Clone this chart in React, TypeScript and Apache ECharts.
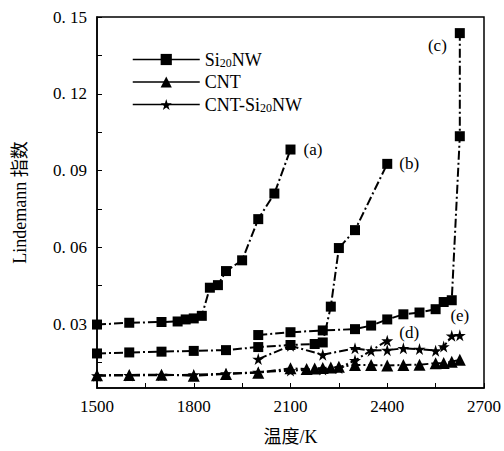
import React, { useEffect, useRef } from "react";
import * as echarts from "echarts";

// Temperature (K) / Lindemann index pairs
const siA: number[][] = [
  [1500, 0.0298], [1600, 0.0305], [1700, 0.0308], [1750, 0.031], [1775, 0.0318],
  [1800, 0.0322], [1825, 0.0332], [1850, 0.0442], [1875, 0.0452], [1900, 0.0507],
  [1950, 0.0549], [2000, 0.071], [2050, 0.081], [2100, 0.0982],
];
const siB: number[][] = [
  [1500, 0.0185], [1600, 0.0189], [1700, 0.0192], [1800, 0.0195], [1900, 0.0198],
  [2000, 0.021], [2100, 0.0218], [2175, 0.0222], [2200, 0.0228], [2225, 0.0368],
  [2250, 0.0597], [2300, 0.0667], [2400, 0.0926],
];
const siC: number[][] = [
  [2000, 0.0257], [2100, 0.0268], [2200, 0.0275], [2300, 0.028], [2350, 0.0294],
  [2400, 0.0318], [2450, 0.0338], [2500, 0.0345], [2550, 0.0358], [2575, 0.0386],
  [2600, 0.0393], [2625, 0.1034], [2625, 0.1437],
];
const cnt: number[][] = [
  [1500, 0.01], [1600, 0.0101], [1700, 0.0102], [1800, 0.0098], [1900, 0.0105],
  [2000, 0.011], [2100, 0.0127], [2150, 0.0124], [2175, 0.0126], [2200, 0.0128],
  [2225, 0.013], [2250, 0.0133], [2300, 0.014], [2350, 0.014], [2400, 0.0138],
  [2450, 0.014], [2500, 0.0141], [2550, 0.0147], [2575, 0.0148], [2600, 0.0153],
  [2625, 0.016],
];
const starD: number[][] = [
  [1500, 0.0098], [1600, 0.0099], [1700, 0.01], [1800, 0.0102], [1900, 0.0106],
  [2000, 0.0112], [2100, 0.0118], [2200, 0.0122], [2250, 0.0128], [2300, 0.0158],
  [2400, 0.0235],
];
const starE: number[][] = [
  [2000, 0.0163], [2100, 0.0215], [2200, 0.018], [2300, 0.0205], [2350, 0.0196],
  [2400, 0.0198], [2450, 0.0205], [2500, 0.0202], [2550, 0.0196], [2575, 0.0212],
  [2600, 0.0254], [2625, 0.0256],
];
const curveLabels = ["(a)", "(b)", "(c)", "(d)", "(e)"];
const legendNames = ["Si20NW", "CNT", "CNT-Si20NW"];
const yTickValues = [0.015, 0.03, 0.045, 0.06, 0.075, 0.09, 0.105, 0.12, 0.135, 0.15];
const yLabelValues = [0.03, 0.06, 0.09, 0.12, 0.15];

const FONT = "'Liberation Serif', 'Noto Sans CJK SC', serif";
const STAR =
  "path://M50,0 L61,35 L98,35 L68,57 L79,91 L50,70 L21,91 L32,57 L2,35 L39,35 Z";

export default function App() {
  const ref = useRef<HTMLDivElement>(null);
  useEffect(() => {
    if (!ref.current) return;
    const chart = echarts.init(ref.current, null, { renderer: "svg" });
    const lineStyle = { color: "#000", width: 2, type: [9, 3, 2, 3] as any };
    const withLabel = (arr: number[][], text: string, lab: any) =>
      arr.map((p, i) =>
        i === arr.length - 1
          ? {
              value: p,
              label: {
                show: true,
                formatter: text,
                fontFamily: FONT,
                fontSize: 17,
                color: "#000",
                ...lab,
              },
            }
          : { value: p }
      );
    const mk = (name: string, data: any[], symbol: string, size: number) => ({
      name,
      type: "line",
      data,
      symbol,
      symbolSize: size,
      lineStyle,
      itemStyle: { color: "#000" },
      z: 3,
    });
    chart.setOption({
      animation: false,
      backgroundColor: "#fff",
      grid: {
        left: 97,
        top: 17,
        right: 19,
        bottom: 62,
        show: true,
        borderColor: "#000",
        borderWidth: 1.5,
      },
      legend: {
        data: legendNames,
        orient: "vertical",
        left: 127,
        top: 45,
        itemWidth: 67,
        itemHeight: 14,
        itemGap: 4,
        lineStyle: { type: "solid", width: 1.5 },
        formatter: (n: string) =>
          n === "Si20NW"
            ? "{a|Si}{s|20}{a|NW}"
            : n === "CNT-Si20NW"
            ? "{a|CNT-Si}{s|20}{a|NW}"
            : "{a|CNT}",
        textStyle: {
          rich: {
            a: { fontFamily: FONT, fontSize: 18, color: "#000", lineHeight: 20 },
            s: {
              fontFamily: FONT,
              fontSize: 12,
              color: "#000",
              lineHeight: 20,
              padding: [7, 0, 0, 0],
            },
          },
        },
      },
      xAxis: {
        type: "value",
        min: 1500,
        max: 2700,
        interval: 150,
        name: "温度/K",
        nameLocation: "middle",
        nameGap: 40,
        nameTextStyle: { fontFamily: FONT, fontSize: 18, color: "#000" },
        axisLine: { lineStyle: { color: "#000", width: 1.5 } },
        axisTick: { inside: true, length: 5, lineStyle: { color: "#000", width: 1 } },
        axisLabel: {
          fontFamily: FONT,
          fontSize: 17,
          color: "#000",
          margin: 10,
          formatter: (v: number) => (v % 300 === 0 ? String(v) : ""),
        },
        splitLine: { show: false },
      },
      yAxis: {
        type: "value",
        min: 0.005,
        max: 0.15,
        name: "Lindemann 指数",
        nameLocation: "middle",
        nameGap: 68,
        nameTextStyle: { fontFamily: FONT, fontSize: 18, color: "#000" },
        axisLine: { lineStyle: { color: "#000", width: 1.5 } },
        axisTick: {
          inside: true,
          length: 5,
          customValues: yTickValues,
          lineStyle: { color: "#000", width: 1 },
        },
        axisLabel: {
          fontFamily: FONT,
          fontSize: 17,
          color: "#000",
          margin: 10,
          customValues: yLabelValues,
          formatter: (v: number) => v.toFixed(2).replace(".", ". "),
        },
        splitLine: { show: false },
      },
      series: [
        mk("Si20NW", withLabel(siA, curveLabels[0], { position: "right", distance: 8 }), "rect", 10),
        mk("Si20NW", withLabel(siB, curveLabels[1], { position: "right", distance: 7 }), "rect", 10),
        mk(
          "Si20NW",
          withLabel(siC, curveLabels[2], { position: "left", distance: 8, offset: [0, 12] }),
          "rect",
          10
        ),
        mk("CNT", cnt.map((p) => ({ value: p })), "triangle", 12),
        mk(
          "CNT-Si20NW",
          withLabel(starD, curveLabels[3], { position: "right", distance: 6, offset: [0, -8] }),
          STAR,
          12
        ),
        mk(
          "CNT-Si20NW",
          withLabel(starE, curveLabels[4], { position: "top", distance: 5 }),
          STAR,
          12
        ),
      ],
    });
    return () => chart.dispose();
  }, []);
  return (
    <div
      ref={ref}
      style={{ position: "fixed", left: 0, top: 0, width: 504, height: 451 }}
    />
  );
}
